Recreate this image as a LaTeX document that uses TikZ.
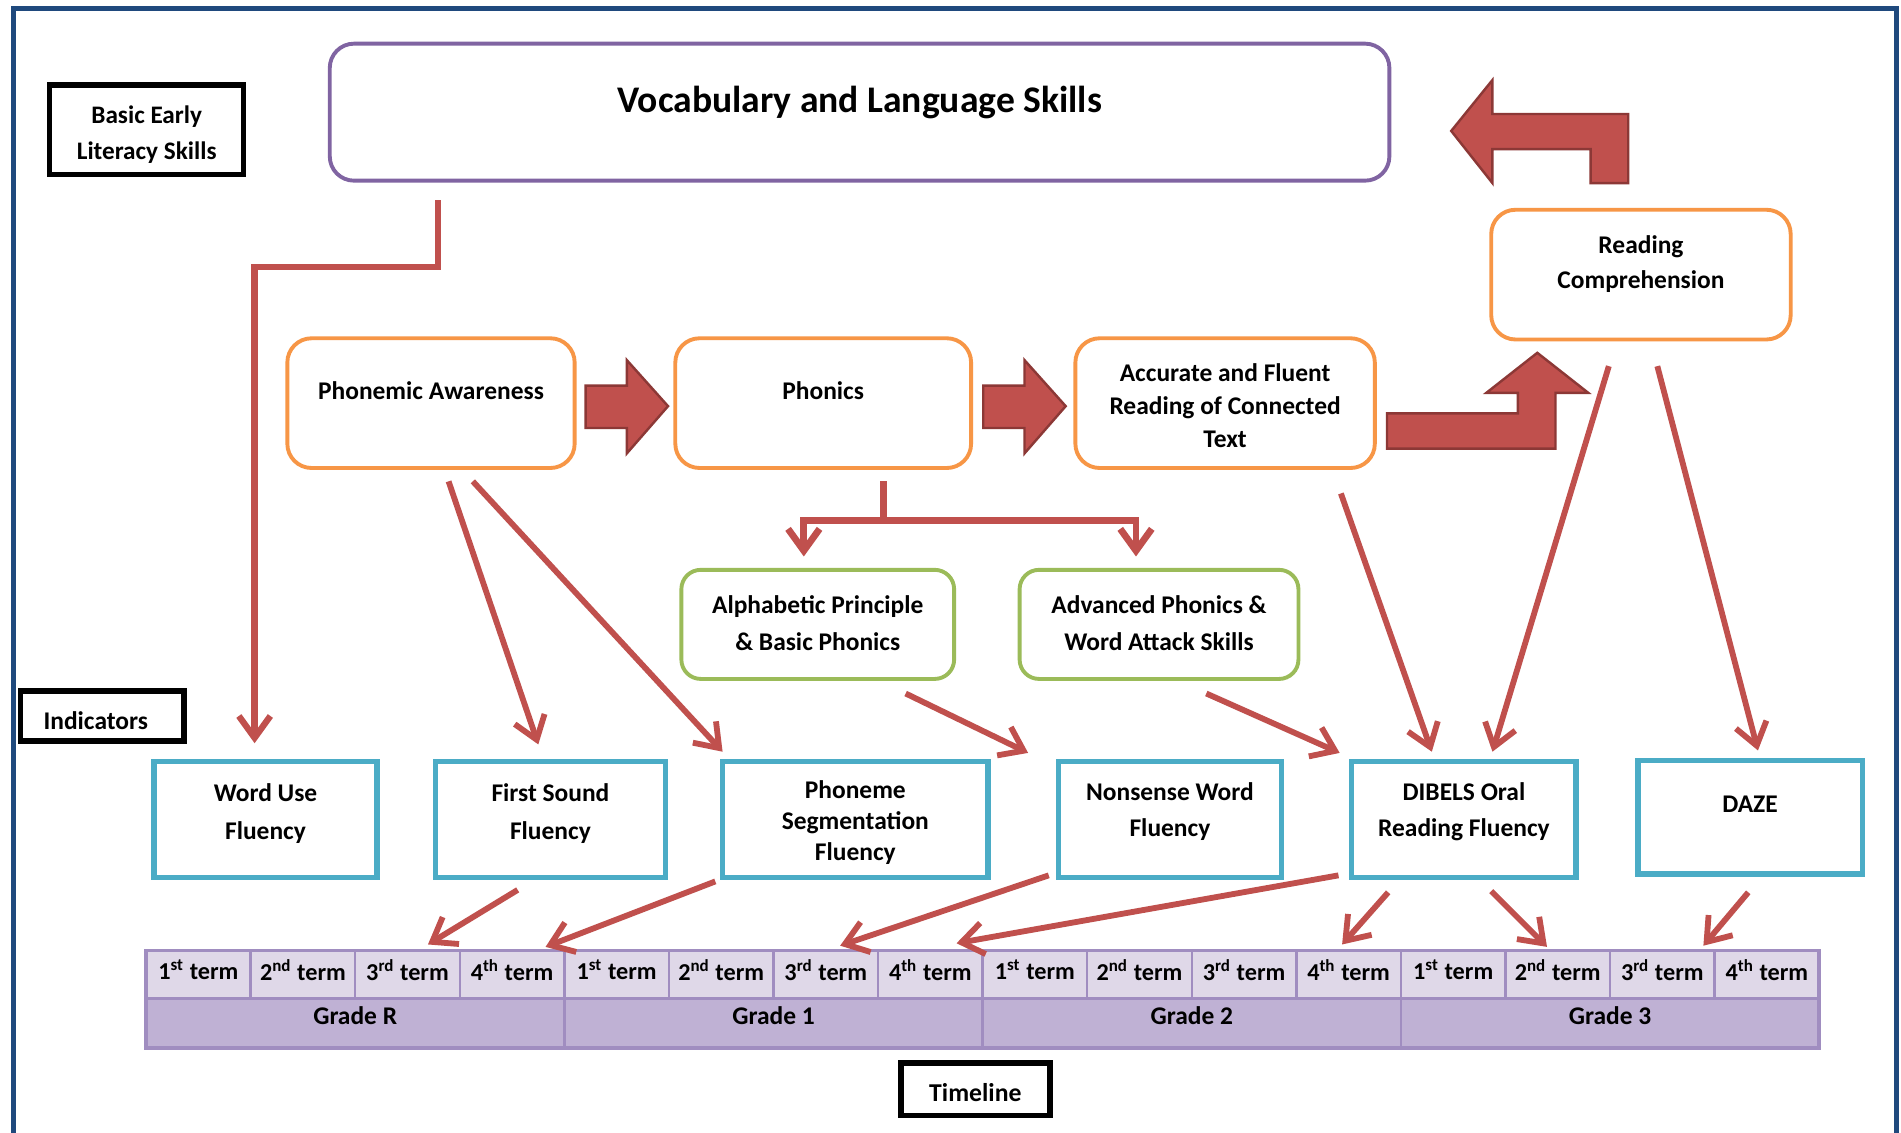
\documentclass[tikz,border=0pt]{standalone}
\usepackage{fontspec}
\setmainfont{Carlito}
\usetikzlibrary{arrows.meta,calc}
\definecolor{redc}{HTML}{C0504D}
\definecolor{redd}{HTML}{8C3836}
\definecolor{orangec}{HTML}{F79646}
\definecolor{purplec}{HTML}{8064A2}
\definecolor{greenc}{HTML}{9BBB59}
\definecolor{bluec}{HTML}{4BACC6}
\definecolor{framec}{HTML}{1F497D}
\definecolor{termc}{HTML}{DFD8E8}
\definecolor{gradec}{HTML}{BFB1D4}
\definecolor{tablec}{HTML}{A08DC0}
\newdimen\pxu \pxu=0.5pt
% \bt{width px}{height px}{2*lift px}{font size}{baselineskip}{text}
\newcommand{\bt}[6]{\parbox[c][#2\pxu][c]{#1\pxu}{\centering\fontsize{#4}{#5}\selectfont\bfseries #6\par\vspace*{#3\pxu}}}
\tikzset{
  basebox/.style={inner sep=0pt, outer sep=0pt},
  obox/.style={basebox, draw=orangec, line width=1.6pt, rounded corners=10pt},
  pbox/.style={basebox, draw=purplec, line width=1.6pt, rounded corners=10pt},
  gbox/.style={basebox, draw=greenc, line width=1.6pt, rounded corners=8pt},
  ibox/.style={basebox, draw=bluec, line width=2.2pt},
  kbox/.style={basebox, draw=black, line width=2.3pt},
  termcell/.style={basebox, fill=termc, draw=tablec, line width=1pt},
  gradecell/.style={basebox, fill=gradec, draw=tablec, line width=1pt},
  conn/.style={draw=redc, line width=2.4pt, -{Straight Barb[length=9pt,width=13pt]}},
  fatarrow/.style={fill=redc, draw=redd, line width=1pt, line join=miter},
}
\begin{document}
\begin{tikzpicture}[x=0.5pt, y=-0.5pt]
\useasboundingbox (0,0) rectangle (1568,934);
\fill[white] (0,0) rectangle (1568,934);
% frame
\draw[framec, line width=2pt] (11,940) -- (11,7) -- (1564,7) -- (1564,940);

% labels
\node[kbox] (basic) at (121,107) {\bt{160}{74}{-8}{10.4}{15}{Basic Early\\Literacy Skills}};
\node[kbox] (indic) at (84.5,590.5) {\bt{135}{41}{-8}{10.5}{12}{Indicators\hspace*{11\pxu}}};
\node[kbox] (timel) at (804.5,898.5) {\bt{123}{43}{-6}{10.6}{12}{Timeline}};

% top boxes
\node[pbox] (vocab) at (709,92.5) {\bt{874}{113}{16}{15.5}{18}{Vocabulary and Language Skills}};
\node[obox] (rc) at (1353.5,226.5) {\bt{247}{107}{17}{10.5}{14.5}{Reading\\Comprehension}};
\node[obox] (pa) at (355.5,332.5) {\bt{237}{107}{21}{10.5}{14}{Phonemic Awareness}};
\node[obox] (ph) at (679,332.5) {\bt{244}{107}{21}{10.5}{14}{Phonics}};
\node[obox] (ac) at (1010.5,332.5) {\bt{247}{107}{-4}{10.5}{13.75}{Accurate and Fluent\\Reading of Connected\\Text}};
\node[gbox] (al) at (674.5,515) {\bt{225}{90}{2}{10.5}{15}{Alphabetic Principle\\\&~Basic Phonics}};
\node[gbox] (ad) at (956,515) {\bt{230}{90}{2}{10.5}{15}{Advanced Phonics \&\\Word Attack Skills}};

% indicators
\node[ibox] (wu) at (219,676) {\bt{184}{96}{10}{10.5}{16}{Word Use\\Fluency}};
\node[ibox] (fs) at (454,676) {\bt{190}{96}{10}{10.5}{16}{First Sound\\Fluency}};
\node[ibox] (ps) at (705.5,676) {\bt{219}{96}{-5}{10.5}{12.75}{Phoneme\\Segmentation\\Fluency}};
\node[ibox] (nw) at (965,676) {\bt{184}{96}{13}{10.5}{15}{Nonsense Word\\Fluency}};
\node[ibox] (orf) at (1207.5,676) {\bt{185}{96}{13}{10.5}{15}{DIBELS Oral\\Reading Fluency}};
\node[ibox] (daze) at (1443.5,674) {\bt{185}{94}{22}{10.5}{15}{DAZE}};

% timeline table
\foreach \g [count=\gi from 0] in {R,1,2,3} {
  \node[gradecell] (grade-\g) at ({120.5+345*(\gi+0.5)},844) {\bt{345}{41}{12}{10.5}{12}{Grade \g}};
  \foreach \t/\s [count=\ti from 0] in {1/st,2/nd,3/rd,4/th} {
    \node[termcell] (term-\g-\t) at ({120.5+345*\gi+86.25*(\ti+0.5)},803.5) {\bt{86.25}{39}{7}{10}{12}{\t\textsuperscript{\s}~term}};
  }
}
\draw[tablec, line width=1.6pt] (term-R-1.north west) rectangle (grade-3.south east);

% fat arrows
\filldraw[fatarrow] (1197,108) -- (1231,66) -- (1231,94) -- (1343,94) -- (1343,151) -- (1312,151) -- (1312,123) -- (1231,123) -- (1231,151) -- cycle;
\filldraw[fatarrow] (1144,341) -- (1252,341) -- (1252,324) -- (1226,324) -- (1268,291) -- (1310,324) -- (1283,324) -- (1283,370) -- (1144,370) -- cycle;
\filldraw[fatarrow] (483,318) -- (517,318) -- (517,297) -- (551,335) -- (517,374) -- (517,353) -- (483,353) -- cycle;
\filldraw[fatarrow] (811,318) -- (845,318) -- (845,297) -- (879,335) -- (845,374) -- (845,353) -- (811,353) -- cycle;

% connector end points
\coordinate (vo-o) at (361,165);
\coordinate (wu-i) at (210,613);
\coordinate (pa-o1) at (370,397);
\coordinate (pa-o2) at (390,397);
\coordinate (fs-i) at (444,614);
\coordinate (ps-i) at (596,620);
\coordinate (ph-o) at (729,397);
\coordinate (al-i) at (663,459);
\coordinate (ad-i) at (937,459);
\coordinate (al-o) at (747,572);
\coordinate (nw-i) at (848,621);
\coordinate (ad-o) at (995,572);
\coordinate (orf-i1) at (1105,621);
\coordinate (ac-o) at (1106,407);
\coordinate (orf-i2) at (1181,620);
\coordinate (rc-o1) at (1327,302);
\coordinate (orf-i3) at (1231,620);
\coordinate (rc-o2) at (1367,302);
\coordinate (daze-i) at (1450,619);
\coordinate (fs-o) at (427,734);
\coordinate (tR3) at (353,779);
\coordinate (ps-o) at (590,727);
\coordinate (tR4) at (450,781);
\coordinate (nw-o) at (865,722);
\coordinate (t13) at (693,780);
\coordinate (orf-o1) at (1104,722);
\coordinate (t14) at (789,778);
\coordinate (orf-o2) at (1145,736);
\coordinate (t24) at (1107,779);
\coordinate (orf-o3) at (1230,735);
\coordinate (t32) at (1276,781);
\coordinate (daze-o) at (1442,736);
\coordinate (t33) at (1405,780);

% connectors
\draw[conn, line width=2.6pt] (vo-o) -- ++(0,55) -| (wu-i);
\draw[conn] (pa-o1) -- (fs-i);
\draw[conn] (pa-o2) -- (ps-i);
\draw[conn, line width=2.8pt] (ph-o) -- ++(0,32) -| (al-i);
\draw[conn, line width=2.8pt] (ph-o) -- ++(0,32) -| (ad-i);
\draw[conn] (al-o) -- (nw-i);
\draw[conn] (ad-o) -- (orf-i1);
\draw[conn] (ac-o) -- (orf-i2);
\draw[conn] (rc-o1) -- (orf-i3);
\draw[conn] (rc-o2) -- (daze-i);
\draw[conn] (fs-o) -- (tR3);
\draw[conn] (ps-o) -- (tR4);
\draw[conn] (nw-o) -- (t13);
\draw[conn] (orf-o1) -- (t14);
\draw[conn] (orf-o2) -- (t24);
\draw[conn] (orf-o3) -- (t32);
\draw[conn] (daze-o) -- (t33);
\end{tikzpicture}
\end{document}
